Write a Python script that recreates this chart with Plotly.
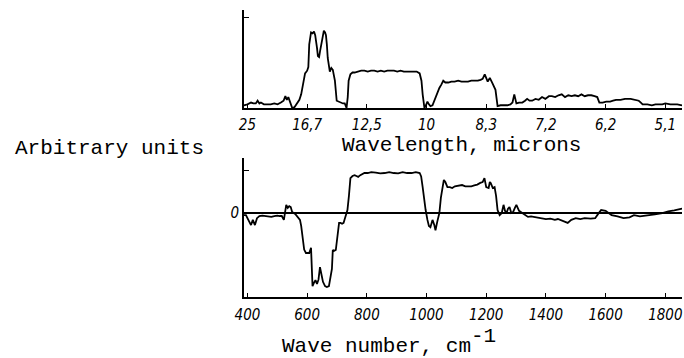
import plotly.graph_objects as go

# Wave number grid (cm^-1) and signals for the two spectra
wn_top = [388, 400, 412, 420, 428, 434, 440, 445, 455, 466, 478, 490, 501, 512, 521, 527, 532, 537, 544, 550,
          558, 567, 574, 580, 587, 593, 600, 604, 607, 610, 613, 618, 623, 627, 630, 633, 636, 640, 643, 647,
          650, 653, 656, 660, 663, 666, 669, 676, 681, 686, 693, 699, 705, 712, 720, 726, 732, 736, 739, 745,
          752, 759, 770, 781, 792, 803, 814, 825, 836, 847, 858, 869, 880, 891, 902, 913, 924, 935, 946, 957,
          967, 977, 983, 987, 990, 993, 998, 1003, 1008, 1013, 1020, 1026, 1030, 1036, 1043, 1050, 1056, 1063,
          1073, 1083, 1094, 1106, 1117, 1128, 1139, 1150, 1161, 1172, 1181, 1188, 1195, 1200, 1205, 1212, 1217,
          1221, 1231, 1235, 1238, 1248, 1261, 1271, 1281, 1288, 1294, 1298, 1301, 1310, 1321, 1330, 1337, 1345,
          1354, 1365, 1376, 1387, 1398, 1410, 1420, 1431, 1442, 1453, 1464, 1475, 1486, 1497, 1508, 1519, 1530,
          1541, 1552, 1563, 1572, 1579, 1590, 1602, 1615, 1625, 1635, 1650, 1665, 1684, 1698, 1711, 1718, 1724,
          1740, 1755, 1767, 1780, 1790, 1800, 1810, 1817, 1830, 1840, 1856]
sig_top = [0.03, 0.04, 0.06, 0.05, 0.05, 0.08, 0.05, 0.06, 0.04, 0.04, 0.04, 0.05, 0.04, 0.06, 0.08, 0.13, 0.09,
           0.12, 0.06, 0.0, 0.01, 0.05, 0.09, 0.15, 0.30, 0.38, 0.41, 0.45, 0.70, 0.80, 0.83, 0.82, 0.84, 0.80,
           0.75, 0.66, 0.57, 0.56, 0.62, 0.70, 0.78, 0.84, 0.85, 0.83, 0.80, 0.70, 0.55, 0.40, 0.44, 0.42, 0.30,
           0.08, 0.07, 0.06, 0.05, 0.05, 0.0, 0.12, 0.30, 0.37, 0.39, 0.39, 0.40, 0.41, 0.41, 0.40, 0.41, 0.41,
           0.40, 0.41, 0.40, 0.41, 0.41, 0.41, 0.40, 0.41, 0.40, 0.40, 0.40, 0.40, 0.40, 0.38, 0.30, 0.15, 0.05,
           0.0, 0.03, 0.07, 0.04, 0.02, 0.03, 0.08, 0.12, 0.16, 0.22, 0.26, 0.30, 0.28, 0.28, 0.29, 0.29, 0.30,
           0.29, 0.29, 0.29, 0.30, 0.30, 0.30, 0.31, 0.32, 0.37, 0.33, 0.29, 0.33, 0.29, 0.27, 0.20, 0.10, 0.02,
           0.03, 0.03, 0.03, 0.04, 0.06, 0.15, 0.08, 0.05, 0.06, 0.06, 0.08, 0.10, 0.08, 0.08, 0.10, 0.09, 0.12,
           0.10, 0.13, 0.13, 0.12, 0.14, 0.15, 0.12, 0.14, 0.13, 0.14, 0.13, 0.15, 0.13, 0.14, 0.14, 0.13, 0.12,
           0.06, 0.06, 0.07, 0.07, 0.08, 0.09, 0.09, 0.10, 0.10, 0.09, 0.08, 0.06, 0.04, 0.04, 0.03, 0.04, 0.04,
           0.04, 0.05, 0.04, 0.04, 0.04, 0.04, 0.03, 0.03]

wn_bot = [388, 395, 400, 405, 412, 418, 425, 432, 440, 450, 460, 470, 480, 490, 500, 508, 515, 522, 527, 530,
          535, 540, 545, 550, 560, 570, 576, 580, 586, 590, 596, 600, 607, 613, 616, 618, 623, 628, 633, 638,
          643, 648, 653, 660, 666, 673, 679, 683, 686, 690, 696, 700, 702, 707, 712, 717, 722, 730, 735, 740,
          745, 752, 759, 765, 771, 778, 784, 792, 803, 815, 830, 845, 860, 875, 890, 905, 920, 935, 950, 964,
          977, 982, 987, 992, 997, 1003, 1008, 1013, 1020, 1026, 1030, 1036, 1043, 1048, 1053, 1058, 1063, 1070,
          1078, 1086, 1095, 1105, 1119, 1130, 1140, 1150, 1160, 1170, 1180, 1188, 1194, 1200, 1208, 1212, 1215,
          1222, 1228, 1233, 1238, 1245, 1252, 1258, 1263, 1268, 1273, 1278, 1284, 1290, 1296, 1301, 1310, 1317,
          1330, 1340, 1350, 1365, 1383, 1400, 1415, 1430, 1440, 1455, 1473, 1485, 1500, 1515, 1530, 1550, 1565,
          1575, 1585, 1600, 1620, 1640, 1660, 1680, 1695, 1715, 1740, 1765, 1790, 1810, 1830, 1856]
sig_bot = [-0.05, -0.05, -0.12, -0.20, -0.28, -0.16, -0.28, -0.12, -0.07, -0.06, -0.07, -0.08, -0.09, -0.07,
           -0.06, -0.07, -0.07, -0.16, 0.05, 0.19, 0.12, 0.16, 0.14, 0.02, -0.02, -0.10, -0.16, -0.30, -0.60,
           -0.85, -0.93, -0.93, -0.93, -0.81, -1.20, -1.70, -1.62, -1.56, -1.65, -1.55, -1.26, -1.40, -1.60,
           -1.70, -1.72, -1.70, -1.50, -1.30, -0.86, -0.88, -0.86, -0.60, -0.40, -0.23, -0.23, -0.25, -0.23,
           -0.05, 0.07, 0.40, 0.81, 0.86, 0.88, 0.86, 0.84, 0.88, 0.91, 0.93, 0.93, 0.95, 0.94, 0.92, 0.93,
           0.95, 0.93, 0.92, 0.95, 0.93, 0.93, 0.95, 0.93, 0.85, 0.60, 0.30, 0.07, -0.16, -0.30, -0.33, -0.16,
           -0.28, -0.40, -0.20, 0.0, 0.35, 0.60, 0.77, 0.72, 0.60, 0.60, 0.58, 0.62, 0.63, 0.65, 0.62, 0.62, 0.62,
           0.64, 0.66, 0.70, 0.72, 0.81, 0.60, 0.58, 0.72, 0.70, 0.58, 0.60, 0.40, 0.07, -0.05, 0.0, 0.19, 0.05,
           0.0, 0.10, 0.14, 0.0, 0.02, 0.12, 0.19, 0.05, 0.02, -0.05, -0.09, -0.08, -0.10, -0.12, -0.14, -0.13,
           -0.16, -0.14, -0.18, -0.23, -0.16, -0.12, -0.14, -0.12, -0.13, -0.12, -0.02, 0.07, 0.05, -0.05,
           -0.08, -0.12, -0.10, -0.05, -0.08, -0.06, -0.03, 0.0, 0.04, 0.06, 0.10, 0.14]

# Tick positions (cm^-1) with wavelength labels above and wave number labels below
tick_wn = [400, 600, 800, 1000, 1200, 1400, 1600, 1800]
wavelength_labels = ["25", "16,7", "12,5", "10", "8,3", "7,2", "6,2", "5,1"]
wavenumber_labels = ["400", "600", "800", "1000", "1200", "1400", "1600", "1800"]

W, H = 684, 358
x_range = [388, 1856]
mono = "Liberation Mono, Courier New, monospace"
tick_font = dict(family="Liberation Sans Narrow, DejaVu Sans Condensed, Arial Narrow, sans-serif",
                 size=15, color="black", style="italic")

fig = go.Figure()
fig.add_trace(go.Scatter(x=wn_top, y=sig_top, mode="lines", line=dict(color="black", width=1.8),
                         xaxis="x", yaxis="y", hoverinfo="skip"))
fig.add_trace(go.Scatter(x=wn_bot, y=sig_bot, mode="lines", line=dict(color="black", width=1.8),
                         xaxis="x2", yaxis="y2", hoverinfo="skip"))

def px_x(p):
    return p / W

def px_y(p):
    return 1 - p / H

common_x = dict(range=x_range, showgrid=False, zeroline=False, showline=True, linecolor="black",
                linewidth=1.5, ticks="inside", ticklen=4, tickcolor="black", tickvals=tick_wn,
                tickfont=tick_font)

def label(text, x, y, size=21):
    return dict(text=text, x=px_x(x), y=px_y(y), xref="paper", yref="paper",
                xanchor="center", yanchor="middle", showarrow=False,
                font=dict(family=mono, size=size, color="black"))

fig.update_layout(
    width=W, height=H,
    margin=dict(l=0, r=0, t=0, b=0),
    paper_bgcolor="white", plot_bgcolor="white",
    showlegend=False,
    xaxis=dict(common_x, domain=[px_x(238), px_x(682)], anchor="y",
               ticktext=wavelength_labels, ticklabelstandoff=2),
    yaxis=dict(domain=[px_y(108), px_y(10)], range=[0, 1.077], anchor="x",
               showgrid=False, zeroline=False, showline=True, linecolor="black", linewidth=1.5,
               ticks="inside", ticklen=5, tickcolor="black", tickvals=[1], showticklabels=False),
    xaxis2=dict(common_x, domain=[px_x(238), px_x(682)], anchor="y2",
                ticktext=wavenumber_labels, ticklabelstandoff=3),
    yaxis2=dict(domain=[px_y(297), px_y(158)], range=[-1.953, 1.279], anchor="x2",
                showgrid=False, zeroline=True, zerolinecolor="black", zerolinewidth=2.2,
                showline=True, linecolor="black", linewidth=1.5,
                ticks="inside", ticklen=5, tickcolor="black", tickvals=[0, 1], ticktext=["0", ""],
                tickfont=tick_font),
    annotations=[
        label("Wavelength, microns", 459, 145),
        label("Arbitrary units", 102, 149),
        label("Wave number, cm", 372, 346),
        label("-1", 481, 336),
    ],
)

fig.write_html("out.html")
